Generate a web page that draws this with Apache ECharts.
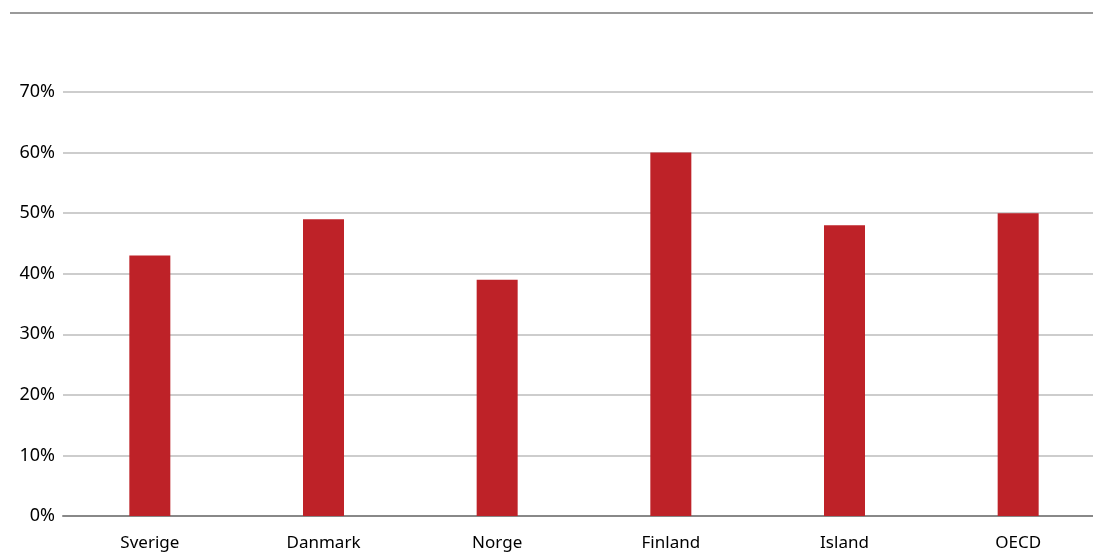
<!DOCTYPE html>
<html><head><meta charset="utf-8">
<script src="https://cdn.jsdelivr.net/npm/echarts@6/dist/echarts.min.js"></script>
<style>html,body{margin:0;padding:0;background:#fff}#c{width:1093px;height:552px}</style>
</head><body><div id="c"></div>
<script>
const categories = ['Sverige', 'Danmark', 'Norge', 'Finland', 'Island', 'OECD'];
const values = [43, 49, 39, 60, 48, 50];
const yTicks = [0, 10, 20, 30, 40, 50, 60, 70];

const chart = echarts.init(document.getElementById('c'));
chart.setOption({
  animation: false,
  graphic: [{
    type: 'line', shape: {x1: 10, y1: 13, x2: 1093, y2: 13},
    style: {stroke: '#9a9a9a', lineWidth: 2}
  }],
  grid: {left: 63, width: 1042, top: 92, bottom: 36, containLabel: false, outerBoundsMode: 'none'},
  xAxis: {
    type: 'category', data: categories,
    axisTick: {show: false},
    axisLine: {show: true, lineStyle: {color: '#888', width: 2}},
    axisLabel: {color: '#000', fontFamily: '"Noto Sans", sans-serif', fontSize: 17, margin: 19}
  },
  yAxis: {
    type: 'value', min: 0, max: 70, interval: 10,
    axisLine: {show: false}, axisTick: {show: false},
    axisLabel: {color: '#000', fontFamily: '"Noto Sans", sans-serif', fontSize: 18, margin: 8,
      formatter: v => yTicks.includes(v) ? v + '%' : ''},
    splitLine: {lineStyle: {color: '#bdbdbd', width: 1.5}}
  },
  series: [{
    type: 'bar', data: values, barWidth: 41,
    itemStyle: {color: '#be2228'}
  }]
});
</script></body></html>
